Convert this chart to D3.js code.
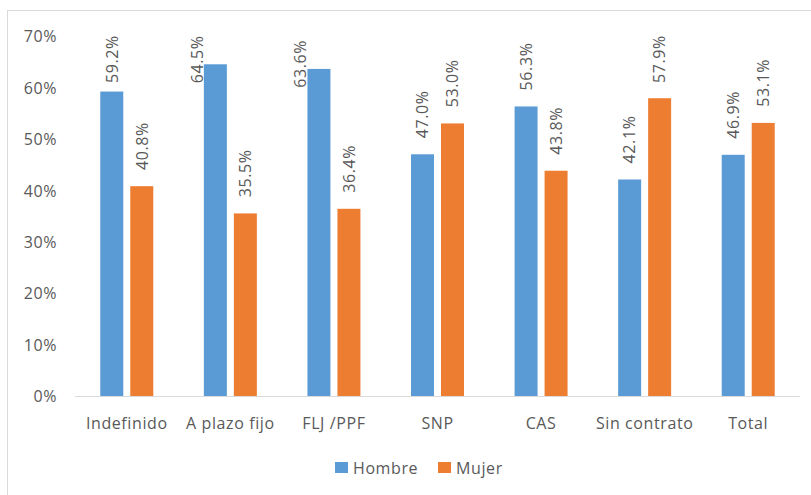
<!DOCTYPE html>
<html><head><meta charset="utf-8">
<script src="https://cdn.jsdelivr.net/npm/d3@7"></script>
<style>body{margin:0;background:#fff}svg{display:block}text{font-family:"Open Sans",sans-serif;fill:#595959;letter-spacing:0.6px}</style>
</head><body>
<script>
const categories = ["Indefinido","A plazo fijo","FLJ /PPF","SNP","CAS","Sin contrato","Total"];
const seriesNames = ["Hombre","Mujer"];
const hombre = [59.2,64.5,63.6,47.0,56.3,42.1,46.9];
const mujer = [40.8,35.5,36.4,53.0,43.8,57.9,53.1];
const yTicks = [0,10,20,30,40,50,60,70];
const colors = ["#5B9BD5","#ED7D31"];

(function(){
const W=811,H=495,FS=16;
const svg=d3.select("body").append("svg").attr("width",W).attr("height",H);
// frame
svg.append("rect").attr("x",7.5).attr("y",10.5).attr("width",W+20).attr("height",H+20)
  .attr("fill","none").attr("stroke","#d9d9d9");

const pL=75,pR=800,pT=36,pB=396;
const x0=d3.scaleBand().domain(categories).range([pL,pR]).padding(0);
const x1=d3.scaleBand().domain(seriesNames).range([0,x0.bandwidth()]).paddingInner(7/30).paddingOuter(0.843);
const y=d3.scaleLinear().domain([0,70]).range([pB,pT]);

// y axis labels
const yAxis=d3.axisLeft(y).tickValues(yTicks).tickFormat(d=>d+"%").tickSize(0).tickPadding(0);
const ya=svg.append("g").attr("transform",`translate(57,0)`).call(yAxis);
ya.select(".domain").remove();
ya.selectAll("text").attr("font-size",FS).style("fill","#595959").attr("dy","0.36em");

// baseline
const xAxis=d3.axisBottom(x0).tickSize(0).tickPadding(0);
const xa=svg.append("g").attr("transform",`translate(0,${pB})`).call(xAxis);
xa.select(".domain").attr("stroke","#d9d9d9").attr("d",`M${pL},0.5H${pR}`);
xa.selectAll("text").attr("font-size",FS).style("fill","#595959").attr("y",33).attr("dy",0);
ya.attr("font-family",null); xa.attr("font-family",null);

const data=categories.map((c,i)=>({c,vals:[hombre[i],mujer[i]]}));
const g=svg.append("g");
const grp=g.selectAll("g").data(data).join("g").attr("transform",d=>`translate(${x0(d.c)},0)`);
grp.selectAll("rect").data(d=>d.vals.map((v,j)=>({v,s:seriesNames[j],j})))
  .join("rect").attr("x",d=>x1(d.s)).attr("width",x1.bandwidth())
  .attr("y",d=>y(d.v)).attr("height",d=>pB-y(d.v)).attr("fill",d=>colors[d.j]);

// data labels
const labLen=48, gap=16, minTop=35;
grp.selectAll("text.lab").data(d=>d.vals.map((v,j)=>({v,s:seriesNames[j],j})))
  .join("text").attr("class","lab").attr("font-size",FS)
  .attr("text-anchor","middle")
  .attr("transform",d=>{
    const bt=y(d.v);
    let cx=x1(d.s)+x1.bandwidth()/2, cy=bt-gap-labLen/2;
    if(cy-labLen/2<minTop){
      cy=minTop+labLen/2;
      if(cy+labLen/2>bt-3){ cx=x1(d.s)-7; cy=bt-5; }
    }
    return `translate(${cx},${cy}) rotate(-90)`;
  })
  .attr("dy","0.36em")
  .text(d=>d.v.toFixed(1)+"%");

// legend
const lg=svg.append("g").attr("transform","translate(335,462)");
const items=[{n:"Hombre",x:0},{n:"Mujer",x:103}];
items.forEach((it,i)=>{
  lg.append("rect").attr("x",it.x).attr("y",0).attr("width",13).attr("height",11).attr("fill",colors[i]);
  lg.append("text").attr("x",it.x+18).attr("y",11.5).attr("font-size",FS).text(it.n);
});
})();
</script>
</body></html>
